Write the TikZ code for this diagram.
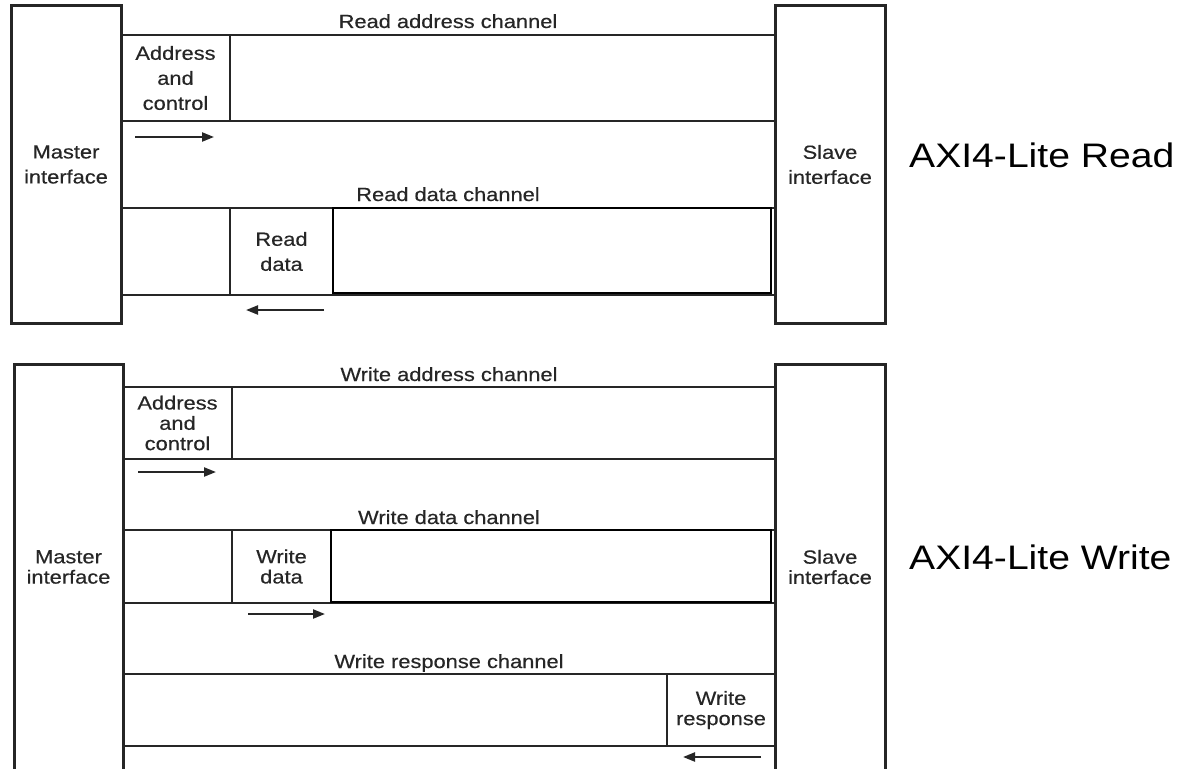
\documentclass[tikz,border=0pt]{standalone}
\usepackage{fontspec}
\setmainfont{Liberation Sans}
\newfontfamily\chanfont[FakeStretch=1.15,FakeBold=0.4]{Liberation Sans}
\newfontfamily\sidefont[FakeStretch=1.15]{Liberation Sans}
\usetikzlibrary{arrows.meta,positioning}
\definecolor{ink}{HTML}{262626}

\begin{document}
\begin{tikzpicture}[x=1pt,y=-1pt,node distance=0pt]
  \tikzset{ifacebox/.style={draw=ink,line width=3pt,anchor=north west,outer sep=0pt,inner sep=0pt,align=center,text=ink,font=\chanfont\fontsize{19}{25}\selectfont},
    chanbox/.style={draw=ink,line width=2.8pt,anchor=north west,outer sep=0pt,inner sep=0pt,minimum width=654pt},
    cellbox/.style={draw=ink,line width=2.6pt,anchor=north west,outer sep=0pt,inner sep=0pt,align=center,text=ink,font=\chanfont\fontsize{19}{25}\selectfont},
    slotbox/.style={draw=black,line width=2pt,anchor=north west,outer sep=0pt,inner sep=0pt},
    tight/.style={font=\chanfont\fontsize{19}{20.3}\selectfont},
    chantitle/.style={anchor=base,inner sep=0pt,text=ink,font=\chanfont\fontsize{19}{22}\selectfont},
    axilabel/.style={anchor=base west,inner sep=0pt,text=black,font=\sidefont\fontsize{34}{40}\selectfont},
    flow/.style={draw=ink,line width=2.2pt,-{Triangle[length=12pt,width=9pt]}}}
  \path[fill=white,use as bounding box] (0,0) rectangle (1182,768);
  \clip (0,0) rectangle (1182,768);
  % AXI4-Lite read
  \node[ifacebox,minimum width=110pt,minimum height=317pt] (mstR) at (11,6) {Master\\interface};
  \node[ifacebox,minimum width=110pt,minimum height=317pt] (slvR) at (775,6) {Slave\\interface};
  \node[chanbox,minimum height=86pt] (rac) at (121,35) {};
  \node[cellbox,minimum width=109pt,minimum height=86pt] (racA) at (rac.north west) {Address\\and\\control};
  \node[chantitle] (racT) at ([yshift=7pt]rac.north) {Read address channel};
  \coordinate (racS) at (135,137);
  \coordinate (racE) at (214,137);
  \draw[flow] (racS) -- (racE);
  \node[chanbox,minimum height=87pt] (rdc) at (121,208) {};
  \node[cellbox,minimum width=109pt,minimum height=87pt] (rdcL) at (rdc.north west) {};
  \node[cellbox,minimum width=103pt,minimum height=87pt,right=0pt of rdcL] (rdcD) {Read\\data};
  \node[slotbox,minimum width=438pt,minimum height=85pt] (rdcR) at (rdcD.north east) {};
  \node[chantitle] (rdcT) at ([yshift=7pt]rdc.north) {Read data channel};
  \coordinate (rdcS) at (324,310);
  \coordinate (rdcE) at (246,310);
  \draw[flow] (rdcS) -- (rdcE);
  % AXI4-Lite write
  \node[ifacebox,tight,minimum width=109pt,minimum height=406pt] (mstW) at (14,364) {Master\\interface};
  \node[ifacebox,tight,minimum width=110pt,minimum height=406pt] (slvW) at (775,364) {Slave\\interface};
  \node[chanbox,minimum width=652pt,minimum height=72pt] (wac) at (123,387) {};
  \node[cellbox,tight,minimum width=109pt,minimum height=72pt] (wacA) at (wac.north west) {Address\\and\\control};
  \node[chantitle] (wacT) at ([yshift=6pt]wac.north) {Write address channel};
  \coordinate (wacS) at (138,472);
  \coordinate (wacE) at (216,472);
  \draw[flow] (wacS) -- (wacE);
  \node[chanbox,minimum width=652pt,minimum height=73pt] (wdc) at (123,530) {};
  \node[cellbox,minimum width=109pt,minimum height=73pt] (wdcL) at (wdc.north west) {};
  \node[cellbox,tight,minimum width=99pt,minimum height=73pt,right=0pt of wdcL] (wdcD) {Write\\data};
  \node[slotbox,minimum width=440pt,minimum height=72pt] (wdcR) at (wdcD.north east) {};
  \node[chantitle] (wdcT) at ([yshift=6pt]wdc.north) {Write data channel};
  \coordinate (wdcS) at (248,614);
  \coordinate (wdcE) at (325,614);
  \draw[flow] (wdcS) -- (wdcE);
  \node[chanbox,minimum width=652pt,minimum height=72pt] (wrc) at (123,674) {};
  \node[cellbox,tight,line width=1.8pt,minimum width=108pt,minimum height=72pt,anchor=north east] (wrcR) at (wrc.north east) {Write\\response};
  \node[chantitle] (wrcT) at ([yshift=6pt]wrc.north) {Write response channel};
  \coordinate (wrcS) at (761,757);
  \coordinate (wrcE) at (683,757);
  \draw[flow] (wrcS) -- (wrcE);
  % side labels
  \node[axilabel] (axiR) at (909,167) {AXI4-Lite Read};
  \node[axilabel] (axiW) at (909,569) {AXI4-Lite Write};
\end{tikzpicture}
\end{document}
